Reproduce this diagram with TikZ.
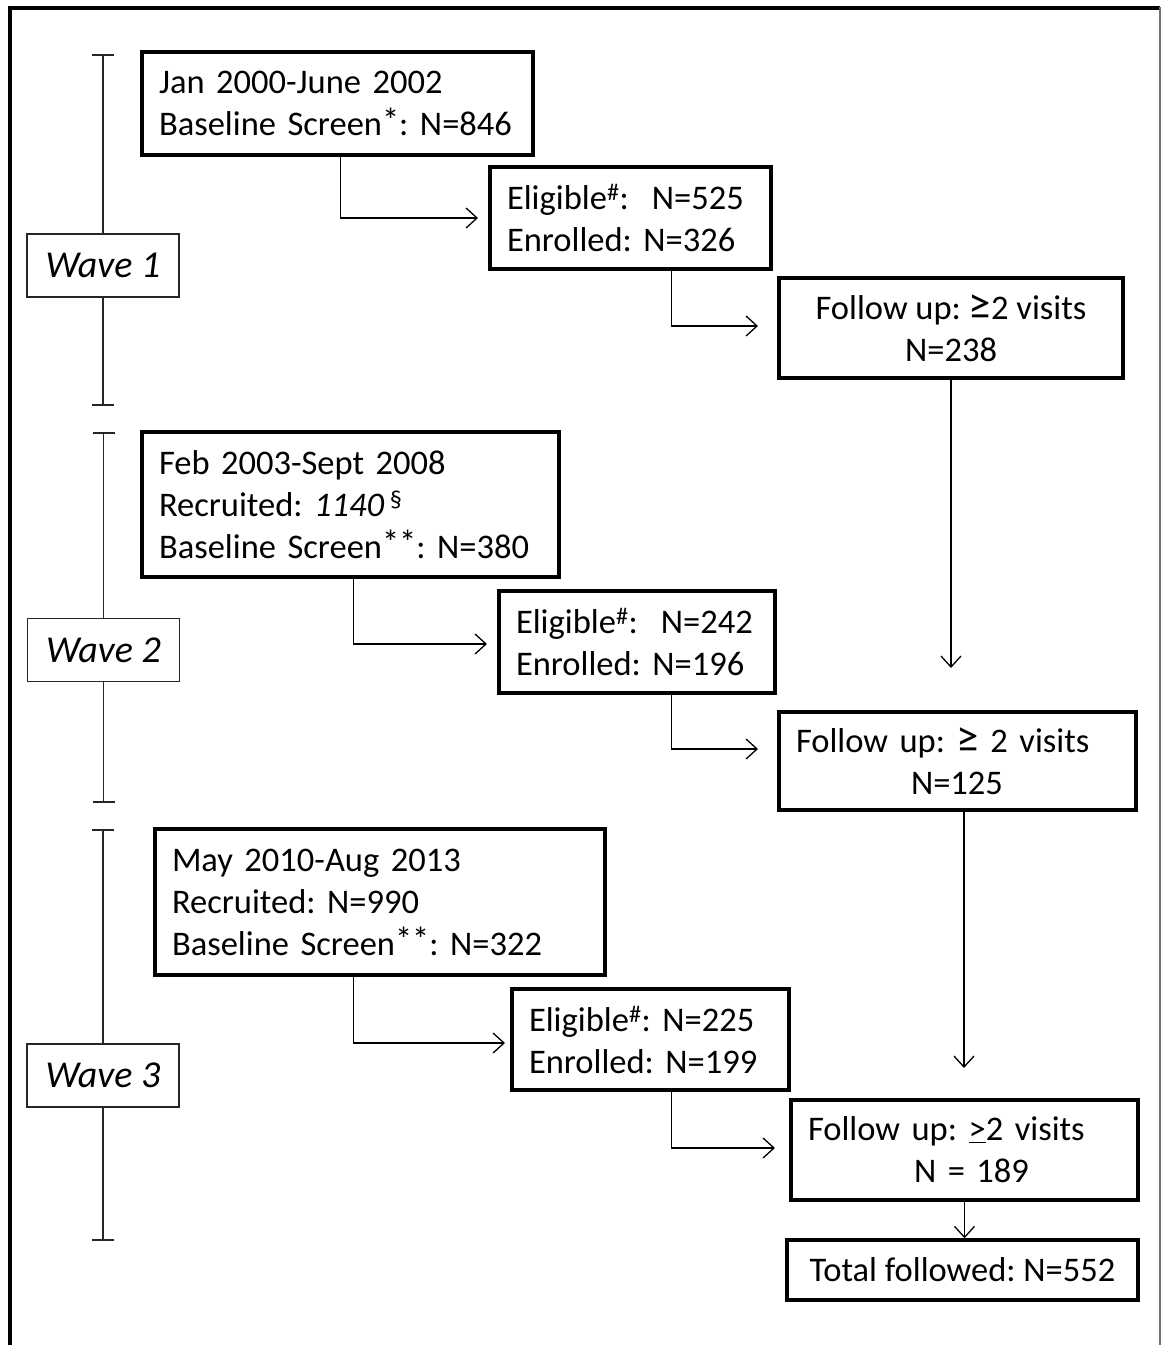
\documentclass[tikz,border=0pt]{standalone}
\usepackage{fontspec}
\setmainfont{Carlito}
\usetikzlibrary{arrows.meta,calc}
\newcommand{\myast}{\raisebox{0.1em}{*}}
\newcommand{\myge}{\scalebox{1.3}{≥}}
\begin{document}
\frenchspacing
\begin{tikzpicture}[x=1pt,y=-1pt,
 box/.style={draw, line width=3.5pt, rectangle, inner sep=0pt, font=\fontsize{34.5}{42}\selectfont\frenchspacing},
 wbox/.style={draw=black!85, line width=1.3pt, rectangle, minimum width=152pt, minimum height=63pt, inner sep=0pt, font=\fontsize{38}{46}\selectfont\itshape},
 arr/.style={line width=1.3pt, -{Straight Barb[length=11pt,width=20pt]}},
 tl/.style={line width=1.3pt, draw=black!85}]
\useasboundingbox (0,0) rectangle (1162,1345);
% outer frame
\draw[line width=4pt] (10,1345) -- (10,8) -- (1160,8);
\draw[line width=2pt, black!55] (1160,7) -- (1160,1345);

% Wave 1
\node[box, minimum width=391pt, minimum height=103pt, text width=357pt, align=left] (A) at (337.5,103.5)
 {\mbox{Jan 2000-June 2002}\\\mbox{Baseline Screen\myast: N=846}};
\node[box, minimum width=281pt, minimum height=102pt, text width=247pt, align=left] (B) at (630.5,218)
 {\mbox{Eligible\textsuperscript{\#}:~~N=525}\\\mbox{Enrolled: N=326}};
\node[box, minimum width=344pt, minimum height=100pt, align=center] (C) at (951,328)
 {Follow up: \myge2 visits\\N=238};

% Wave 2
\node[box, minimum width=417pt, minimum height=145pt, text width=383pt, align=left] (D) at (350.5,504.5)
 {\mbox{Feb 2003-Sept 2008}\\\mbox{Recruited: \textit{1140}\,\textsuperscript{\S}}\\\mbox{Baseline Screen\myast\myast: N=380}};
\node[box, minimum width=276pt, minimum height=102pt, text width=242pt, align=left] (E) at (637,642)
 {\mbox{Eligible\textsuperscript{\#}:~~N=242}\\\mbox{Enrolled: N=196}};
\node[box, minimum width=357pt, minimum height=98pt, text width=323pt, align=left] (F) at (957.5,761)
 {\mbox{Follow up: \myge\ 2 visits}\\\hspace*{115pt}N=125};

% Wave 3
\node[box, minimum width=450pt, minimum height=146pt, text width=416pt, align=left] (G) at (380,902)
 {\mbox{May 2010-Aug 2013}\\\mbox{Recruited: N=990}\\\mbox{Baseline Screen\myast\myast: N=322}};
\node[box, minimum width=277pt, minimum height=101pt, text width=243pt, align=left] (H) at (650.5,1039.5)
 {\mbox{Eligible\textsuperscript{\#}: N=225}\\\mbox{Enrolled: N=199}};
\node[box, minimum width=347pt, minimum height=100pt, text width=313pt, align=left] (I) at (964.5,1150)
 {\mbox{Follow up: \underline{>}2 visits}\\\hspace*{106pt}N = 189};
\node[box, minimum width=351pt, minimum height=60pt, align=center] (J) at (962.5,1270)
 {Total followed: N=552};

% wave labels
\node[wbox] (W1) at (103,265.5) {Wave 1};
\node[wbox] (W2) at (103.5,650) {Wave 2};
\node[wbox] (W3) at (103,1075.5) {Wave 3};

% timelines
\coordinate (t1a) at (103,55);  \coordinate (t1b) at (103,405);
\coordinate (t2a) at (103.5,433); \coordinate (t2b) at (103.5,802);
\coordinate (t3a) at (103,830); \coordinate (t3b) at (103,1240);
\foreach \w/\a/\b in {W1/t1a/t1b, W2/t2a/t2b, W3/t3a/t3b}{
  \draw[tl] (\a) -- (\w.north);
  \draw[tl] (\w.south) -- (\b);
  \draw[tl] ([xshift=-11pt]\a) -- ([xshift=11pt]\a);
  \draw[tl] ([xshift=-11pt]\b) -- ([xshift=11pt]\b);
}

% connectors
\coordinate (eB) at (478,218);
\coordinate (eC) at (758,326);
\coordinate (eE) at (487,644);
\coordinate (eF) at (758,749);
\coordinate (eH) at (505,1043);
\coordinate (eI) at (775,1148);
\coordinate (dC) at (951,668);
\coordinate (dF) at (964,1068);

\draw[arr] ([xshift=200pt]A.south west) |- (eB);
\draw[arr] ([xshift=183pt]B.south west) |- (eC);
\draw[arr] ([xshift=213pt]D.south west) |- (eE);
\draw[arr] ([xshift=174pt]E.south west) |- (eF);
\draw[arr] ([xshift=200pt]G.south west) |- (eH);
\draw[arr] ([xshift=161pt]H.south west) |- (eI);
\draw[arr] (C.south) -- (dC);
\draw[arr] (F.south -| dF) -- (dF);
\draw[arr] (I.south) -- (I.south |- J.north);
\end{tikzpicture}
\end{document}
